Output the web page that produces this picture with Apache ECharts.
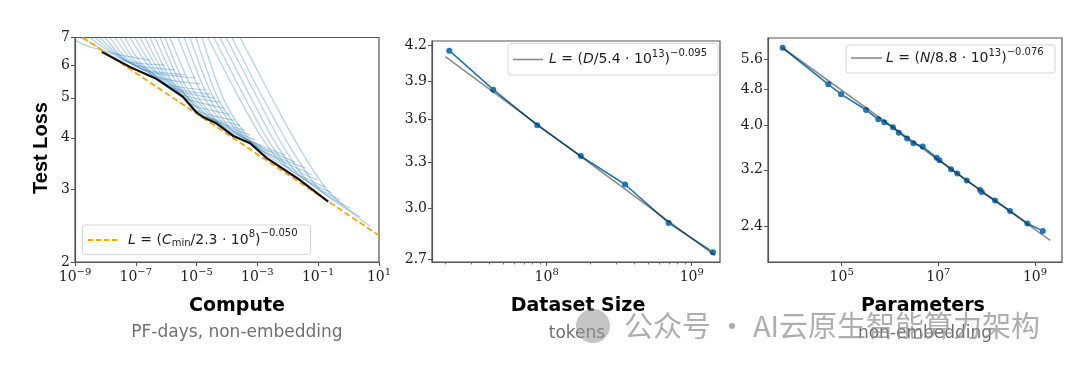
<!DOCTYPE html>
<html><head><meta charset="utf-8">
<script src="https://cdn.jsdelivr.net/npm/echarts@6.0.0/dist/echarts.min.js"></script>
<style>html,body{margin:0;padding:0;background:#fff}#c{width:1080px;height:369px}</style>
</head><body><div id="c"></div>
<script>
// ---------- Panel 1: Compute (x = log10 PF-days) ----------
const computeTickExps = [-9, -7, -5, -3, -1, 1];
const computeLossTicks = [2, 3, 4, 5, 6, 7];
// frontier of all runs: [log10 C, test loss]
const computeFrontier = [[-8.12,6.46],[-7.19,5.94],[-6.31,5.55],[-5.45,5.03],[-5.02,4.62],[-4.79,4.49],[-4.34,4.33],[-3.79,4.04],[-3.24,3.88],[-2.69,3.57],[-1.60,3.16],[-0.67,2.80]];
// power-law fit endpoints: [log10 C, loss]
const computeFit = [[-8.75,7.00],[1.00,2.32]];
// individual learning curves: [log10 C, loss]
const learningCurves = [
 [[-9.00,6.90],[-8.67,6.71],[-8.18,6.53],[-7.52,6.35],[-6.53,6.17]],
 [[-8.84,7.00],[-8.34,6.71],[-7.85,6.35],[-7.19,6.10],[-6.04,6.00]],
 [[-8.51,7.00],[-8.18,6.71],[-7.68,6.35],[-7.03,6.00],[-5.71,5.84]],
 [[-8.34,7.00],[-7.85,6.53],[-7.36,6.17],[-6.70,5.84],[-5.38,5.68]],
 [[-8.18,7.00],[-7.68,6.45],[-7.19,6.07],[-6.53,5.77],[-5.05,5.58]],
 [[-8.01,7.00],[-7.52,6.35],[-6.86,5.90],[-6.20,5.58],[-4.89,5.40]],
 [[-7.85,7.00],[-7.36,6.28],[-6.70,5.84],[-6.04,5.40],[-4.72,5.22]],
 [[-7.68,7.00],[-7.19,6.24],[-6.53,5.77],[-5.88,5.31],[-4.56,5.10]],
 [[-7.52,7.00],[-7.03,6.17],[-6.37,5.68],[-5.71,5.22],[-4.39,4.99]],
 [[-7.36,7.00],[-6.86,6.10],[-6.20,5.58],[-5.55,5.10],[-4.23,4.88]],
 [[-7.19,7.00],[-6.60,6.00],[-5.94,5.43],[-5.38,4.99],[-4.07,4.72]],
 [[-7.03,7.00],[-6.37,5.84],[-5.71,5.28],[-5.22,4.83],[-3.90,4.56]],
 [[-6.86,7.00],[-6.20,5.77],[-5.55,5.16],[-5.05,4.67],[-3.74,4.41]],
 [[-6.70,7.00],[-6.04,5.68],[-5.38,5.08],[-4.89,4.56],[-3.57,4.29]],
 [[-6.53,7.00],[-5.88,5.58],[-5.22,4.94],[-4.72,4.51],[-3.41,4.17]],
 [[-6.37,7.00],[-5.71,5.52],[-5.05,4.80],[-4.49,4.44],[-3.24,4.06]],
 [[-6.20,7.00],[-5.55,5.46],[-4.89,4.72],[-4.30,4.34],[-3.08,3.95]],
 [[-6.04,7.00],[-5.38,5.37],[-4.72,4.67],[-4.07,4.22],[-2.85,3.82]],
 [[-5.88,7.00],[-5.15,5.28],[-4.49,4.54],[-3.84,4.10],[-2.59,3.69]],
 [[-5.61,7.00],[-4.89,5.22],[-4.16,4.36],[-3.41,3.99],[-2.09,3.63]],
 [[-5.41,7.00],[-4.69,5.16],[-3.90,4.22],[-3.08,3.86],[-1.76,3.49]],
 [[-5.22,7.00],[-4.49,5.08],[-3.64,4.13],[-2.85,3.73],[-1.43,3.38]],
 [[-5.02,7.00],[-4.30,4.99],[-3.41,4.01],[-2.59,3.63],[-1.20,3.25]],
 [[-4.82,7.00],[-4.07,4.88],[-3.18,3.90],[-2.32,3.49],[-1.01,3.16]],
 [[-4.63,7.00],[-3.74,5.22],[-2.91,4.06],[-2.09,3.41],[-0.78,3.04]],
 [[-4.43,7.00],[-3.51,5.16],[-2.65,3.95],[-1.86,3.32],[-0.55,2.94]],
 [[-4.23,7.00],[-3.31,5.16],[-2.42,3.90],[-1.60,3.23],[-0.28,2.82]],
 [[-4.03,7.00],[-3.08,5.13],[-2.16,3.82],[-1.27,3.10],[0.05,2.70]],
 [[-3.84,7.00],[-2.85,5.05],[-1.86,3.73],[-0.94,2.99],[0.38,2.57]],
 [[-3.57,7.00],[-2.75,5.37],[-1.99,4.22],[-1.27,3.43],[-0.55,2.90],[0.70,2.44]]
];

// ---------- Panel 2: Dataset size ----------
const datasetTokens = [2.13e7, 4.28e7, 8.6e7, 1.72e8, 3.47e8, 6.93e8, 1.40e9];
const datasetLoss = [4.15, 3.83, 3.56, 3.34, 3.15, 2.91, 2.74];
const datasetFitTokens = [2.0e7, 1.45e9];
const datasetFitLoss = [4.10, 2.72];
const datasetLossTicks = [2.7, 3.0, 3.3, 3.6, 3.9, 4.2];
const datasetTickExps = [8, 9];
const datasetMinorTicks = [2e7,3e7,4e7,5e7,6e7,7e7,8e7,9e7,2e8,3e8,4e8,5e8,6e8,7e8,8e8,9e8];

// ---------- Panel 3: Parameters ----------
const paramsN = [6.0e3, 5.28e4, 9.7e4, 3.19e5, 5.73e5, 7.62e5, 1.15e6, 1.51e6, 2.25e6, 3.04e6, 4.75e6, 9.27e6, 1.05e7, 1.83e7, 2.47e7, 3.87e7, 7.3e7, 7.9e7, 1.49e8, 3.05e8, 6.96e8, 1.45e9];
const paramsLoss = [5.93, 4.93, 4.69, 4.33, 4.13, 4.07, 3.97, 3.86, 3.75, 3.66, 3.60, 3.40, 3.36, 3.21, 3.14, 3.03, 2.89, 2.86, 2.74, 2.60, 2.44, 2.35];
const paramsFitN = [6.0e3, 2.06e9];
const paramsFitLoss = [5.93, 2.24];
const paramsLossTicks = [2.4, 3.2, 4.0, 4.8, 5.6];
const paramsTickExps = [5, 7, 9];

// ---------- build ----------
const L10 = Math.log10;
const AX = '#555';
const blue = '#1f77b4';
const tickFont = {fontFamily: 'DejaVu Serif', fontSize: 14, color: '#222'};
const expRich = {e: {fontFamily: 'DejaVu Serif', fontSize: 10, color: '#222', padding: [0, 0, 10, 0]}};
function expLabel(v) {
  const e = Math.round(v);
  return '10{e|' + (e < 0 ? '\u2212' + (-e) : e) + '}';
}
function xAxisLog(gi, min, max, majors) {
  return {type: 'value', gridIndex: gi, min: min, max: max, position: 'bottom',
    axisLine: {show: true, onZero: false, lineStyle: {color: AX, width: 1.2}},
    axisTick: {show: true, length: 4, customValues: majors, lineStyle: {color: AX, width: 1}},
    axisLabel: Object.assign({show: true, customValues: majors, formatter: expLabel, margin: 5, rich: expRich}, tickFont),
    splitLine: {show: false}};
}
function xAxisMinor(gi, min, max, vals) {
  return {type: 'value', gridIndex: gi, min: min, max: max, position: 'bottom',
    axisLine: {show: false},
    axisTick: {show: true, length: 2.5, customValues: vals, lineStyle: {color: AX, width: 0.8}},
    axisLabel: {show: false}, splitLine: {show: false}};
}
function yAxisLog(gi, minV, maxV, ticks, dec) {
  const cv = ticks.map(L10);
  return {type: 'value', gridIndex: gi, min: L10(minV), max: L10(maxV),
    axisLine: {show: true, onZero: false, lineStyle: {color: AX, width: 1.2}},
    axisTick: {show: true, length: 4, customValues: cv, lineStyle: {color: AX, width: 1}},
    axisLabel: Object.assign({show: true, customValues: cv, margin: 5,
      formatter: function (v) { return Math.pow(10, v).toFixed(dec); }}, tickFont),
    splitLine: {show: false}};
}
const gridBase = {show: true, borderColor: AX, borderWidth: 1.2, containLabel: false};

const series = [];
learningCurves.forEach(function (c, i) {
  series.push({type: 'line', name: 'run' + i, xAxisIndex: 0, yAxisIndex: 0, z: 1,
    data: c.map(function (p) { return [p[0], L10(p[1])]; }),
    symbol: 'none', smooth: 0.25, silent: true, clip: true,
    lineStyle: {color: 'rgba(31,119,180,0.32)', width: 1.3}});
});
series.push({type: 'line', name: 'fit1', xAxisIndex: 0, yAxisIndex: 0, z: 2, symbol: 'none', clip: true,
  data: computeFit.map(function (p) { return [p[0], L10(p[1])]; }),
  lineStyle: {color: '#ffa500', width: 1.8, type: [6, 3]}});
series.push({type: 'line', name: 'frontier', xAxisIndex: 0, yAxisIndex: 0, z: 3, symbol: 'none', clip: true,
  data: computeFrontier.map(function (p) { return [p[0], L10(p[1])]; }),
  lineStyle: {color: '#111', width: 2.2}});

series.push({type: 'line', name: 'D', xAxisIndex: 1, yAxisIndex: 1, z: 2,
  data: datasetTokens.map(function (d, i) { return [L10(d), L10(datasetLoss[i])]; }),
  symbol: 'circle', symbolSize: 6, itemStyle: {color: blue}, lineStyle: {color: blue, width: 1.6}});
series.push({type: 'line', name: 'Dfit', xAxisIndex: 1, yAxisIndex: 1, z: 3, symbol: 'none',
  data: datasetFitTokens.map(function (d, i) { return [L10(d), L10(datasetFitLoss[i])]; }),
  lineStyle: {color: 'rgba(0,0,0,0.45)', width: 1.6}});

series.push({type: 'line', name: 'N', xAxisIndex: 3, yAxisIndex: 2, z: 2,
  data: paramsN.map(function (n, i) { return [L10(n), L10(paramsLoss[i])]; }),
  symbol: 'circle', symbolSize: 6, itemStyle: {color: blue}, lineStyle: {color: blue, width: 1.6}});
series.push({type: 'line', name: 'Nfit', xAxisIndex: 3, yAxisIndex: 2, z: 3, symbol: 'none',
  data: paramsFitN.map(function (n, i) { return [L10(n), L10(paramsFitLoss[i])]; }),
  lineStyle: {color: 'rgba(0,0,0,0.45)', width: 1.6}});

const legendRich = {
  i: {fontFamily: 'DejaVu Sans', fontSize: 14, fontStyle: 'italic', fill: '#222'},
  sub: {fontFamily: 'DejaVu Sans', fontSize: 10, fill: '#222', padding: [7, 0, 0, 0]},
  sup: {fontFamily: 'DejaVu Sans', fontSize: 10, fill: '#222', padding: [0, 0, 11, 0]},
  supx: {fontFamily: 'DejaVu Sans', fontSize: 10, fill: '#222', padding: [0, 0, 13, 0]}
};
function legendText(x, y, txt) {
  return {type: 'text', x: x, y: y, z: 100, silent: true,
    style: {text: txt, rich: legendRich, fontFamily: 'DejaVu Sans', fontSize: 14, fill: '#222', align: 'left', verticalAlign: 'middle'}};
}
function legendBox(x, y, w, h) {
  return {type: 'rect', z: 99, silent: true, shape: {x: x, y: y, width: w, height: h, r: 3},
    style: {fill: 'rgba(255,255,255,0.85)', stroke: '#d4d4d4', lineWidth: 1}};
}
function titleText(x, y, txt, size, color, weight) {
  return {type: 'text', x: x, y: y, silent: true,
    style: {text: txt, fontFamily: 'DejaVu Sans', fontSize: size, fontWeight: weight, fill: color, align: 'center', verticalAlign: 'middle'}};
}

const graphics = [
  legendBox(82.5, 225, 228, 29.5),
  {type: 'line', z: 100, silent: true, shape: {x1: 88, y1: 240, x2: 118, y2: 240}, style: {stroke: '#ffa500', lineWidth: 1.8, lineDash: [5, 3]}},
  legendText(128, 240, '{i|L} = ({i|C}{sub|min}/2.3 \u00b7 10{sup|8}){supx|\u22120.050}'),
  legendBox(508, 43.5, 210, 31.5),
  {type: 'line', z: 100, silent: true, shape: {x1: 513, y1: 59.5, x2: 543, y2: 59.5}, style: {stroke: 'rgba(0,0,0,0.45)', lineWidth: 1.6}},
  legendText(549, 59.5, '{i|L} = ({i|D}/5.4 \u00b7 10{sup|13}){supx|\u22120.095}'),
  legendBox(846, 45, 209, 28),
  {type: 'line', z: 100, silent: true, shape: {x1: 851, y1: 58, x2: 882, y2: 58}, style: {stroke: 'rgba(0,0,0,0.45)', lineWidth: 1.6}},
  legendText(886, 58.5, '{i|L} = ({i|N}/8.8 \u00b7 10{sup|13}){supx|\u22120.076}'),
  {type: 'text', x: 41, y: 148, rotation: Math.PI / 2, silent: true,
    style: {text: 'Test Loss', fontFamily: 'Liberation Sans', fontSize: 20, fontWeight: 'bold', fill: '#000', align: 'center', verticalAlign: 'middle'}},
  titleText(237, 306, 'Compute', 19, '#000', 'bold'),
  titleText(237, 333, 'PF-days, non-embedding', 17, '#707070', 'normal'),
  titleText(578, 306, 'Dataset Size', 19, '#000', 'bold'),
  titleText(577, 334, 'tokens', 17, '#707070', 'normal'),
  titleText(923, 306, 'Parameters', 19, '#000', 'bold'),
  titleText(925, 334, 'non-embedding', 17, '#707070', 'normal'),
  // watermark
  {type: 'circle', z: 200, silent: true, shape: {cx: 593, cy: 326, r: 17}, style: {fill: 'rgba(150,150,150,0.55)'}},
  {type: 'text', x: 624, y: 326, z: 200, silent: true,
    style: {text: '\u516c\u4f17\u53f7 \u00b7 AI\u4e91\u539f\u751f\u667a\u80fd\u7b97\u529b\u67b6\u6784', fontFamily: 'Noto Sans CJK SC', fontSize: 29, fill: 'rgba(140,140,140,0.7)', align: 'left', verticalAlign: 'middle'}}
];

const option = {
  animation: false,
  backgroundColor: '#fff',
  grid: [
    Object.assign({left: 75, top: 37.5, width: 304, height: 224.5}, gridBase),
    Object.assign({left: 432, top: 41, width: 288, height: 221}, gridBase),
    Object.assign({left: 768, top: 38, width: 294, height: 224}, gridBase)
  ],
  xAxis: [
    xAxisLog(0, -9, 1, computeTickExps),
    xAxisLog(1, 7.209, 9.195, datasetTickExps),
    xAxisMinor(1, 7.209, 9.195, datasetMinorTicks.map(L10)),
    xAxisLog(2, 3.475, 9.559, paramsTickExps)
  ],
  yAxis: [
    yAxisLog(0, 2, 7, computeLossTicks, 0),
    yAxisLog(1, 2.685, 4.234, datasetLossTicks, 1),
    yAxisLog(2, 2.008, 6.23, paramsLossTicks, 1)
  ],
  series: series,
  graphic: graphics
};
const chart = echarts.init(document.getElementById('c'), null, {renderer: 'canvas'});
chart.setOption(option);
</script>
</body></html>
